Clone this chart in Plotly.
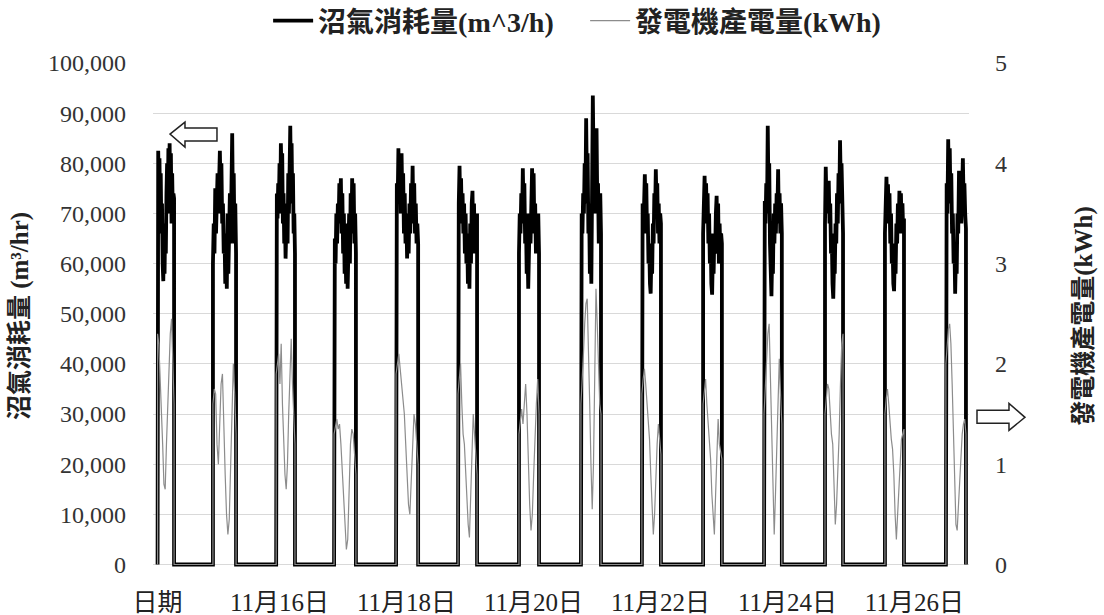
import numpy as np
import plotly.graph_objects as go

# Generator on-periods (hours from first reading)
ON_START = [0, 21.8, 46.7, 69.5, 93.9, 118.3, 142.3, 166.7, 190.7, 214.8, 238.8, 262.8, 286.4, 310.4]
ON_END = [6.5, 30.9, 54.1, 78.1, 102.6, 125.8, 150.2, 174.6, 198.2, 222.2, 245.8, 269.9, 293.9, 318.3]

# Biogas consumption (m^3/h) readings during each on-period
GAS_C01 = [80000, 82500, 74000, 81000, 70000, 78000, 66000, 72000, 60000, 56500, 64000, 58000, 68000, 62000,
           74000, 80000, 70000, 83000, 76000, 84000, 72000, 82000, 68000, 78000, 70000, 74000, 73000]
GAS_C02 = [60000, 68000, 62000, 75000, 66000, 72000, 78000, 70000, 76000, 82500, 74000, 80000, 68000, 72000,
           62000, 66000, 56000, 64000, 55000, 70000, 58000, 66000, 74000, 64000, 80000, 86000, 70000, 78000,
           64000, 72000, 62000]
GAS_C03 = [71000, 74000, 69000, 76000, 72000, 80000, 70000, 84000, 78000, 82000, 68000, 74000, 64000, 70000,
           61000, 66000, 72000, 64000, 78000, 70000, 82000, 87500, 76000, 84000, 72000, 78000, 66000, 70000, 62000]
GAS_C04 = [58000, 65000, 60000, 70000, 64000, 72000, 68000, 76000, 70000, 77000, 66000, 74000, 62000, 70000,
           58000, 64000, 56000, 68000, 55000, 62000, 70000, 60000, 74000, 66000, 77000, 70000, 76000, 64000,
           70000, 62000]
GAS_C05 = [70000, 76000, 72000, 83000, 74000, 80000, 70000, 82000, 72000, 78000, 66000, 74000, 64000, 70000,
           61000, 68000, 62000, 72000, 66000, 76000, 70000, 79500, 68000, 76000, 66000, 72000, 64000, 68000, 64000]
GAS_C06 = [64000, 72000, 79500, 70000, 77000, 68000, 74000, 66000, 72000, 62000, 70000, 60000, 66000, 56000,
           64000, 55000, 68000, 60000, 72000, 74500, 64000, 72000, 62000, 70000, 66000, 70000]
GAS_C07 = [62000, 70000, 66000, 74000, 68000, 79000, 70000, 76000, 64000, 70000, 58000, 64000, 55000, 62000,
           70000, 64000, 76000, 79000, 70000, 78000, 66000, 72000, 62000, 68000, 64000, 70000, 62000]
GAS_C08 = [64000, 70000, 66000, 74000, 70000, 80000, 72000, 89000, 76000, 82000, 66000, 72000, 58000, 64000,
           56000, 74000, 93500, 80000, 86000, 70000, 78000, 87000, 72000, 76000, 64000, 70000, 74000, 66000]
GAS_C09 = [68000, 72000, 66000, 74000, 77800, 70000, 76000, 66000, 70000, 60000, 64000, 56000, 54000, 62000,
           58000, 68000, 64000, 74000, 70000, 78800, 72000, 76000, 66000, 72000, 64000, 70000, 68000]
GAS_C10 = [66000, 72000, 77500, 70000, 76000, 68000, 74000, 64000, 70000, 60000, 66000, 56000, 53800, 62000,
           58000, 66000, 62000, 70000, 73500, 64000, 72000, 60000, 68000, 62000, 66000, 64000]
GAS_C11 = [66000, 72500, 68000, 76000, 70000, 87500, 74000, 80000, 64000, 60000, 53500, 62000, 58000, 70000,
           64000, 72000, 66000, 74000, 70000, 78800, 68000, 74000, 66000, 72000, 66000]
GAS_C12 = [68000, 79300, 72000, 76000, 70000, 76500, 68000, 72000, 62000, 66000, 56000, 53000, 60000, 58000,
           68000, 64000, 74000, 68000, 78000, 72000, 84600, 76000, 80000, 70000, 66000]
GAS_C13 = [66000, 72000, 77300, 70000, 75800, 68000, 74000, 64000, 70000, 60000, 64000, 56000, 54500, 62000,
           58000, 68000, 64000, 72000, 66000, 74500, 68000, 74000, 66000, 72000, 66000, 69000]
GAS_C14 = [66000, 76000, 70000, 84800, 74000, 83000, 72000, 78000, 66000, 70000, 60000, 64000, 54000, 62000,
           58000, 70000, 66000, 78500, 70000, 76000, 68000, 74000, 81000, 72000, 76000, 70000, 67000]

# Generator output (kWh) readings during each on-period
PWR_C01 = [2.3, 2.2, 1.9, 1.6, 1.2, 0.8, 0.75, 1.2, 1.6, 2.0, 2.3, 2.45, 1.9, 1.6]
PWR_C02 = [1.6, 1.75, 1.7, 1.2, 1.0, 1.5, 1.8, 1.9, 1.3, 0.9, 0.5, 0.3, 0.45, 0.9, 1.5, 2.0, 1.7, 1.3]
PWR_C03 = [1.9, 2.0, 2.1, 1.8, 2.2, 1.6, 1.2, 0.9, 0.75, 1.0, 1.5, 2.0, 2.25, 1.8, 1.4, 1.2]
PWR_C04 = [1.3, 1.4, 1.45, 1.35, 1.4, 1.2, 0.9, 0.6, 0.3, 0.15, 0.25, 0.7, 1.2, 1.35, 1.3, 1.1, 0.9]
PWR_C05 = [1.9, 2.0, 2.1, 1.95, 1.8, 1.6, 1.5, 1.2, 0.9, 0.6, 0.5, 0.8, 1.2, 1.5, 1.4, 1.2, 1.0]
PWR_C06 = [1.7, 1.9, 2.0, 1.6, 1.3, 1.2, 0.9, 0.65, 0.4, 0.27, 0.6, 1.1, 1.5, 1.3, 1.0, 0.9]
PWR_C07 = [1.3, 1.4, 1.55, 1.4, 1.6, 1.8, 1.5, 1.0, 0.6, 0.34, 0.5, 0.9, 1.3, 1.6, 1.85, 1.5]
PWR_C08 = [1.6, 1.8, 2.1, 2.4, 2.6, 2.65, 2.2, 1.6, 1.0, 0.55, 1.0, 2.0, 2.75, 2.4, 1.9, 1.6, 1.5]
PWR_C09 = [1.7, 1.85, 1.95, 1.8, 1.6, 1.4, 1.25, 0.9, 0.55, 0.3, 0.5, 0.9, 1.2, 1.4, 1.2, 1.1]
PWR_C10 = [1.6, 1.75, 1.85, 1.6, 1.4, 1.2, 1.05, 0.7, 0.45, 0.3, 0.7, 1.2, 1.45, 1.2, 1.1, 1.05]
PWR_C11 = [1.5, 1.8, 2.1, 2.3, 2.4, 1.9, 1.3, 0.7, 0.3, 0.7, 1.2, 1.7, 2.05, 1.7, 1.4]
PWR_C12 = [1.5, 1.7, 1.8, 1.75, 1.5, 1.3, 1.2, 0.8, 0.4, 0.6, 0.9, 1.3, 1.8, 2.2, 2.3]
PWR_C13 = [1.5, 1.65, 1.75, 1.6, 1.4, 1.25, 1.15, 0.9, 0.5, 0.25, 0.5, 0.8, 1.1, 1.25, 1.3, 1.35]
PWR_C14 = [2.0, 2.2, 2.35, 2.4, 2.2, 1.8, 1.4, 0.9, 0.4, 0.34, 0.6, 0.9, 1.1, 1.3, 1.4, 1.45, 1.3]

TICK_POS = [0, 48, 98, 148, 198, 248, 298]
TICK_TEXT = ["日期", "11月16日", "11月18日", "11月20日", "11月22日", "11月24日", "11月26日"]

GAS = [GAS_C01, GAS_C02, GAS_C03, GAS_C04, GAS_C05, GAS_C06, GAS_C07,
       GAS_C08, GAS_C09, GAS_C10, GAS_C11, GAS_C12, GAS_C13, GAS_C14]
PWR = [PWR_C01, PWR_C02, PWR_C03, PWR_C04, PWR_C05, PWR_C06, PWR_C07,
       PWR_C08, PWR_C09, PWR_C10, PWR_C11, PWR_C12, PWR_C13, PWR_C14]


def build(series):
    xs, ys = [], []
    for s, e, v in zip(ON_START, ON_END, series):
        t = np.linspace(s, e, len(v))
        xs += [s] + list(t) + [e]
        ys += [0] + list(v) + [0]
    return xs, ys


gx, gy = build(GAS)
px_, py_ = build(PWR)

SERIF = "Liberation Serif, 'Times New Roman', 'Noto Sans CJK TC', serif"

fig = go.Figure()
fig.add_trace(go.Scatter(
    x=px_, y=py_, mode="lines", name="發電機產電量(kWh)", yaxis="y2",
    line=dict(color="#8c8c8c", width=1.2), legendrank=2))
fig.add_trace(go.Scatter(
    x=gx, y=gy, mode="lines", name="沼氣消耗量(m^3/h)",
    line=dict(color="#000000", width=3.8), legendrank=1))

# plot area in pixels (0 value at y=564, 100,000 at y=63)
L, R, T, B0 = 153, 969, 63, 564
YMIN = -900
B = B0 + (B0 - T) * (-YMIN) / 100000.0


def P(px, py):
    return (px - L) / (R - L), (B - py) / (B - T)


def path(pts):
    s = ""
    for i, (a, b) in enumerate(pts):
        x, y = P(a, b)
        s += ("M" if i == 0 else "L") + f"{x:.4f},{y:.4f} "
    return s + "Z"


left_arrow = [(170, 134), (185, 122), (185, 128), (217, 128), (217, 141), (185, 141), (185, 147)]
right_arrow = [(977, 410), (1009, 410), (1009, 403), (1025, 417), (1009, 430), (1009, 423), (977, 423)]

shapes = [dict(type="path", xref="paper", yref="paper", path=path(a),
               line=dict(color="#222", width=1.5), fillcolor="white")
          for a in (left_arrow, right_arrow)]

fig.update_layout(
    width=1104, height=615,
    margin=dict(l=L, r=1104 - R, t=T, b=615 - B, autoexpand=False),
    paper_bgcolor="white", plot_bgcolor="white",
    font=dict(family=SERIF, color="#222"),
    showlegend=True,
    legend=dict(orientation="h", xref="container", yref="container",
                x=0.530, y=1 - 21 / 615, xanchor="center", yanchor="middle",
                font=dict(size=28, family=SERIF, color="#222", weight="bold"),
                bgcolor="rgba(0,0,0,0)", itemwidth=40, entrywidth=262),
    xaxis=dict(range=[-1.8, 319.5], tickvals=TICK_POS, ticktext=TICK_TEXT,
               showgrid=False, zeroline=False, showline=False, ticks="",
               ticklabelstandoff=16, automargin=False,
               tickfont=dict(size=25, family=SERIF, color="#222")),
    yaxis=dict(range=[YMIN, 100000], tickvals=list(range(0, 100001, 10000)), tickformat=",",
               showgrid=True, gridcolor="#d9d9d9", gridwidth=1.3, automargin=False,
               zeroline=False, showline=False, ticks="", ticklabelstandoff=26,
               tickfont=dict(size=24, family=SERIF, color="#333"),
               title=dict(text="沼氣消耗量 (m³/hr)", standoff=12,
                          font=dict(size=25, family=SERIF, color="#222", weight="bold"))),
    yaxis2=dict(range=[YMIN / 20000.0, 5], tickvals=[0, 1, 2, 3, 4, 5], overlaying="y", side="right",
                showgrid=False, zeroline=False, showline=False, ticks="", automargin=False,
                ticklabelstandoff=25,
                tickfont=dict(size=24, family=SERIF, color="#333"),
                title=dict(text="發電機產電量(kWh)", standoff=68,
                           font=dict(size=25, family=SERIF, color="#222", weight="bold"))),
    shapes=shapes,
)

fig.write_html("out.html", config={"displayModeBar": False},
               post_script="document.body.style.margin='0px';")
